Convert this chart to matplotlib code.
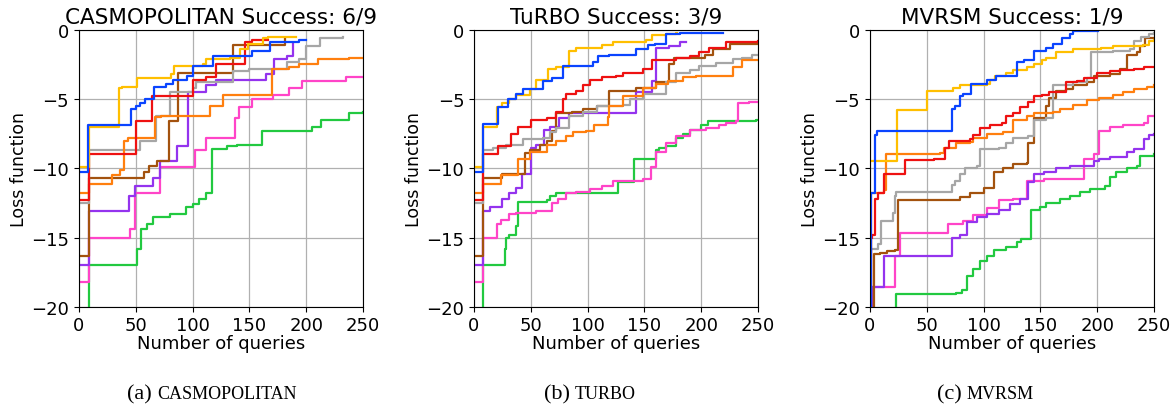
#!/usr/bin/env python3

import matplotlib.pyplot as plt

# best loss so far (step curves)
# value -25 marks a start below the visible range

# ---- CASMOPOLITAN ----
cas_blue_q = [0, 8, 46, 50, 54, 58, 66, 77, 83, 95, 100, 118, 152, 168, 194, 200]
cas_blue_y = [-10.3, -6.85, -5.7, -5.5, -5.3, -5.0, -4.1, -3.9, -3.6, -3.3, -2.6, -1.9, -1.5, -0.9, -0.7, -0.7]
cas_yellow_q = [0, 9, 35, 38, 51, 81, 84, 109, 112, 133, 142, 149, 162, 166, 191]
cas_yellow_y = [-9.9, -7.0, -4.2, -4.1, -3.5, -3.2, -2.6, -2.5, -2.1, -2.0, -1.4, -1.0, -0.6, -0.5, -0.5]
cas_red_q = [0, 9, 50, 64, 100, 112, 121, 136, 146, 152, 166]
cas_red_y = [-12.3, -9.0, -6.6, -4.8, -3.6, -3.4, -2.5, -2.5, -0.9, -0.7, -0.7]
cas_orange_q = [0, 9, 29, 36, 40, 43, 67, 72, 115, 127, 170, 185, 194, 210, 238, 250]
cas_orange_y = [-11.8, -11.1, -10.5, -10.1, -8.0, -7.8, -6.3, -6.2, -5.5, -4.7, -2.8, -2.7, -2.5, -2.1, -2.0, -2.0]
cas_gray_q = [0, 9, 54, 68, 80, 100, 103, 136, 150, 183, 194, 200, 212, 232]
cas_gray_y = [-12.5, -8.7, -8.0, -6.2, -4.5, -4.2, -3.8, -3.0, -2.8, -2.3, -2.1, -1.2, -0.6, -0.5]
cas_brown_q = [0, 9, 57, 62, 69, 79, 87, 136, 181]
cas_brown_y = [-16.3, -10.7, -10.3, -9.8, -9.5, -6.6, -3.1, -1.1, -0.6]
cas_purple_q = [0, 9, 44, 49, 65, 71, 86, 96, 112, 121, 165, 172, 183, 188]
cas_purple_y = [-17.0, -13.1, -12.0, -11.3, -10.7, -9.5, -8.4, -4.5, -4.0, -3.6, -3.2, -2.1, -1.9, -1.0]
cas_pink_q = [0, 9, 45, 49, 71, 102, 112, 137, 141, 152, 171, 185, 196, 235, 250]
cas_pink_y = [-18.2, -15.0, -14.4, -11.8, -9.9, -8.7, -7.8, -6.4, -5.6, -5.0, -4.7, -4.2, -3.7, -3.4, -3.4]
cas_green_q = [0, 9, 51, 55, 60, 65, 80, 94, 100, 106, 112, 117, 130, 139, 161, 205, 213, 238, 250]
cas_green_y = [-25, -17.0, -15.8, -14.4, -14.0, -13.5, -13.3, -12.8, -12.6, -12.2, -11.8, -8.6, -8.4, -8.3, -7.3, -7.0, -6.5, -6.0, -5.9]

# ---- TuRBO ----
tur_blue_q = [0, 8, 21, 30, 37, 43, 61, 69, 78, 105, 109, 119, 143, 153, 159, 169, 181, 219]
tur_blue_y = [-10.3, -6.8, -5.6, -5.0, -4.6, -4.3, -3.7, -3.5, -2.6, -2.3, -1.9, -1.8, -1.4, -1.1, -1.0, -0.3, -0.2, -0.2]
tur_yellow_q = [0, 8, 20, 25, 31, 37, 49, 55, 65, 72, 84, 90, 113, 122, 151, 157, 169, 178, 179]
tur_yellow_y = [-9.9, -7.0, -5.6, -5.3, -5.0, -4.7, -4.3, -3.6, -2.8, -2.7, -1.5, -1.3, -1.1, -0.9, -0.7, -0.4, -0.3, -0.2, -0.2]
tur_red_q = [0, 8, 21, 33, 39, 50, 64, 72, 78, 81, 90, 96, 102, 113, 125, 131, 149, 157, 178, 190, 198, 207, 222, 250]
tur_red_y = [-12.3, -9.0, -8.4, -7.5, -7.0, -6.5, -6.4, -5.9, -5.0, -4.6, -4.4, -4.0, -3.6, -3.4, -3.3, -3.1, -2.8, -2.2, -2.0, -1.9, -1.6, -1.3, -0.9, -0.8]
tur_orange_q = [0, 8, 24, 39, 49, 64, 72, 81, 87, 99, 106, 118, 119, 131, 149, 160, 171, 184, 195, 228, 236, 250]
tur_orange_y = [-11.8, -11.1, -10.5, -9.3, -8.8, -8.3, -8.0, -7.7, -7.4, -7.3, -6.9, -6.3, -5.5, -4.8, -4.2, -3.9, -3.7, -3.4, -3.3, -2.7, -2.2, -2.2]
tur_gray_q = [0, 8, 17, 28, 43, 61, 67, 72, 84, 96, 108, 131, 137, 149, 169, 178, 190, 198, 213, 228, 236, 245, 250]
tur_gray_y = [-12.5, -8.7, -8.5, -8.3, -7.9, -7.8, -7.4, -7.1, -6.2, -5.9, -5.5, -5.4, -5.0, -4.6, -3.8, -3.1, -2.9, -2.6, -2.4, -2.1, -2.0, -1.8, -1.8]
tur_brown_q = [0, 8, 25, 45, 49, 58, 64, 69, 72, 86, 96, 108, 119, 143, 160, 172, 176, 203, 210, 225, 250]
tur_brown_y = [-16.3, -10.7, -10.4, -8.9, -8.7, -8.3, -8.0, -7.3, -6.0, -5.9, -5.7, -5.5, -4.4, -4.2, -3.8, -2.5, -2.0, -1.8, -1.4, -1.0, -1.0]
tur_purple_q = [0, 8, 14, 25, 31, 37, 42, 50, 55, 62, 67, 75, 84, 143, 157, 160, 172, 181, 187]
tur_purple_y = [-17.0, -13.1, -12.8, -12.2, -11.8, -11.4, -10.4, -8.5, -8.3, -7.2, -7.0, -6.4, -6.0, -4.5, -3.7, -1.3, -1.2, -0.9, -0.9]
tur_pink_q = [0, 8, 20, 24, 31, 37, 55, 69, 74, 81, 90, 102, 113, 122, 149, 156, 160, 169, 178, 190, 204, 216, 222, 231, 232, 242, 250]
tur_pink_y = [-18.2, -15.0, -14.0, -13.7, -13.3, -13.2, -13.1, -12.5, -12.2, -11.8, -11.7, -11.5, -11.3, -10.9, -10.8, -9.9, -8.8, -8.2, -7.7, -7.2, -7.1, -6.9, -6.7, -6.6, -5.3, -5.2, -5.2]
tur_green_q = [0, 8, 27, 28, 31, 37, 39, 64, 67, 72, 127, 141, 160, 163, 169, 178, 184, 190, 200, 206, 248, 250]
tur_green_y = [-25, -17.0, -15.8, -15.0, -14.8, -14.2, -12.4, -12.3, -12.0, -11.8, -11.0, -9.3, -8.7, -8.5, -8.4, -7.8, -7.5, -7.2, -6.9, -6.6, -6.5, -6.5]

# ---- MVRSM ----
mvr_blue_q = [0, 1, 4, 6, 72, 75, 79, 82, 89, 103, 111, 129, 136, 144, 155, 161, 169, 176, 179, 201]
mvr_blue_y = [-25, -11.8, -7.6, -7.3, -5.7, -5.5, -4.8, -4.6, -3.9, -3.6, -3.3, -2.3, -2.2, -1.5, -1.3, -1.0, -0.6, -0.3, -0.1, -0.1]
mvr_yellow_q = [0, 24, 50, 73, 79, 103, 106, 110, 120, 126, 138, 144, 151, 155, 164, 179, 203, 214, 240, 246, 250]
mvr_yellow_y = [-9.5, -5.8, -4.4, -4.2, -4.0, -3.9, -3.6, -3.3, -3.1, -2.9, -2.7, -2.5, -2.2, -2.0, -1.6, -1.4, -1.3, -1.2, -1.1, -0.8, -0.7]
mvr_red_q = [0, 1, 2, 4, 7, 12, 31, 56, 66, 70, 88, 91, 97, 106, 116, 120, 126, 132, 139, 144, 151, 158, 173, 182, 188, 200, 211, 220, 232, 241, 250]
mvr_red_y = [-25, -15.0, -14.8, -12.2, -11.8, -10.4, -9.4, -9.3, -8.5, -8.0, -7.9, -7.6, -7.1, -6.9, -6.7, -6.2, -6.0, -5.6, -5.2, -4.8, -4.7, -4.5, -3.8, -3.7, -3.5, -3.1, -3.0, -2.9, -2.8, -2.7, -2.7]
mvr_orange_q = [0, 1, 12, 14, 62, 65, 76, 88, 91, 103, 117, 126, 138, 144, 161, 167, 179, 191, 202, 214, 223, 232, 244, 250]
mvr_orange_y = [-25, -11.8, -11.6, -9.0, -8.9, -8.5, -8.2, -8.1, -7.8, -7.5, -7.4, -6.5, -6.2, -6.0, -5.9, -5.7, -5.4, -5.1, -4.9, -4.7, -4.5, -4.3, -4.1, -4.0]
mvr_gray_q = [0, 1, 7, 10, 20, 22, 23, 72, 75, 79, 84, 94, 97, 114, 120, 126, 139, 144, 155, 161, 179, 191, 195, 214, 229, 232, 239, 246, 250]
mvr_gray_y = [-25, -15.8, -15.5, -13.8, -13.2, -12.0, -11.7, -11.2, -10.9, -10.4, -10.0, -9.8, -8.6, -8.5, -8.2, -7.8, -7.7, -6.5, -6.4, -4.0, -3.8, -3.5, -1.6, -1.5, -1.4, -0.8, -0.5, -0.3, -0.2]
mvr_brown_q = [0, 3.5, 9, 15, 22, 25, 79, 88, 100, 109, 117, 126, 138, 139, 144, 155, 158, 164, 173, 179, 191, 197, 211, 220, 226, 235, 238, 242, 250]
mvr_brown_y = [-25, -16.2, -16.1, -16.0, -15.9, -12.3, -12.1, -11.8, -11.4, -10.3, -10.0, -9.7, -9.6, -8.2, -6.4, -5.5, -4.9, -4.4, -4.3, -4.0, -3.8, -3.3, -3.2, -2.8, -1.8, -1.6, -1.2, -0.6, -0.6]
mvr_purple_q = [0, 2, 12, 72, 79, 85, 94, 103, 114, 123, 132, 139, 144, 153, 164, 176, 197, 202, 211, 226, 232, 241, 246, 250]
mvr_purple_y = [-25, -18.6, -16.3, -15.0, -14.8, -13.9, -13.5, -13.3, -13.0, -12.6, -12.2, -11.0, -10.4, -10.3, -10.0, -9.8, -9.5, -9.3, -9.2, -8.8, -8.6, -7.9, -7.6, -7.5]
mvr_pink_q = [0, 1, 22, 26, 69, 82, 91, 103, 114, 126, 138, 153, 188, 197, 202, 211, 223, 241, 245, 250]
mvr_pink_y = [-25, -18.6, -16.3, -14.7, -14.0, -13.8, -13.4, -12.9, -12.3, -12.2, -10.9, -10.8, -9.3, -9.0, -7.3, -7.0, -6.9, -6.7, -6.2, -6.2]
mvr_green_q = [0, 23, 76, 81, 85, 91, 97, 103, 109, 120, 129, 133, 142, 150, 155, 167, 176, 185, 194, 207, 211, 217, 226, 235, 238, 250]
mvr_green_y = [-25, -19.1, -19.0, -18.8, -17.8, -17.3, -16.7, -16.3, -15.9, -15.7, -15.3, -15.1, -13.0, -12.8, -12.5, -12.2, -12.0, -11.7, -11.5, -11.3, -10.6, -10.3, -10.0, -9.8, -9.1, -9.0]

panel_titles = ['CASMOPOLITAN Success: 6/9', 'TuRBO Success: 3/9', 'MVRSM Success: 1/9']
captions = [('(a)', 'CASMOPOLITAN'), ('(b)', 'TURBO'), ('(c)', 'MVRSM')]

# drawing order: back to front
COLORS = {
    'green': '#22c940', 'pink': '#ff44c8', 'purple': '#9433ee', 'brown': '#a3520e',
    'gray': '#a6a6a6', 'orange': '#ff7f0e', 'red': '#ee1111', 'yellow': '#ffbf00',
    'blue': '#0a44ff',
}

panels = [
    {'green': (cas_green_q, cas_green_y), 'pink': (cas_pink_q, cas_pink_y),
     'purple': (cas_purple_q, cas_purple_y), 'brown': (cas_brown_q, cas_brown_y),
     'gray': (cas_gray_q, cas_gray_y), 'orange': (cas_orange_q, cas_orange_y),
     'red': (cas_red_q, cas_red_y), 'yellow': (cas_yellow_q, cas_yellow_y),
     'blue': (cas_blue_q, cas_blue_y)},
    {'green': (tur_green_q, tur_green_y), 'pink': (tur_pink_q, tur_pink_y),
     'purple': (tur_purple_q, tur_purple_y), 'brown': (tur_brown_q, tur_brown_y),
     'gray': (tur_gray_q, tur_gray_y), 'orange': (tur_orange_q, tur_orange_y),
     'red': (tur_red_q, tur_red_y), 'yellow': (tur_yellow_q, tur_yellow_y),
     'blue': (tur_blue_q, tur_blue_y)},
    {'green': (mvr_green_q, mvr_green_y), 'pink': (mvr_pink_q, mvr_pink_y),
     'purple': (mvr_purple_q, mvr_purple_y), 'brown': (mvr_brown_q, mvr_brown_y),
     'gray': (mvr_gray_q, mvr_gray_y), 'orange': (mvr_orange_q, mvr_orange_y),
     'red': (mvr_red_q, mvr_red_y), 'yellow': (mvr_yellow_q, mvr_yellow_y),
     'blue': (mvr_blue_q, mvr_blue_y)},
]

fig = plt.figure(figsize=(11.75, 4.06), dpi=100)
lefts = [0.0672, 0.4034, 0.7404]
cap_centers = [212, 590, 985]   # pixel centres of the sub-captions

renderer = fig.canvas.get_renderer()
for i, series in enumerate(panels):
    ax = fig.add_axes([lefts[i], 0.242, 0.2417, 0.682])
    for name, (q, y) in series.items():
        ax.plot(q, y, drawstyle='steps-post', color=COLORS[name], lw=1.6)
    ax.set_xlim(0, 250)
    ax.set_ylim(-20, 0)
    ax.set_xticks([0, 50, 100, 150, 200, 250])
    ax.set_yticks([-20, -15, -10, -5, 0])
    ax.grid(True, color='#b0b0b0', lw=0.9)
    ax.set_axisbelow(True)
    ax.tick_params(labelsize=13)
    ax.set_title(panel_titles[i], fontsize=15.5, pad=5)
    ax.set_xlabel('Number of queries', fontsize=13, labelpad=0)
    ax.set_ylabel('Loss function', fontsize=12.5, labelpad=2)

    # sub-caption: "(x)" in normal serif, method name in smaller caps
    lab, name = captions[i]
    t1 = fig.text(0, 0.017, lab, fontsize=16, family='Liberation Serif', va='baseline')
    t2 = fig.text(0, 0.017, name, fontsize=13, family='Liberation Serif', va='baseline')
    w1 = t1.get_window_extent(renderer).width
    w2 = t2.get_window_extent(renderer).width
    gap = 5
    x0 = cap_centers[i] - (w1 + gap + w2) / 2
    t1.set_x(x0 / 1175)
    t2.set_x((x0 + w1 + gap) / 1175)

fig.savefig('out.png', dpi=100)
